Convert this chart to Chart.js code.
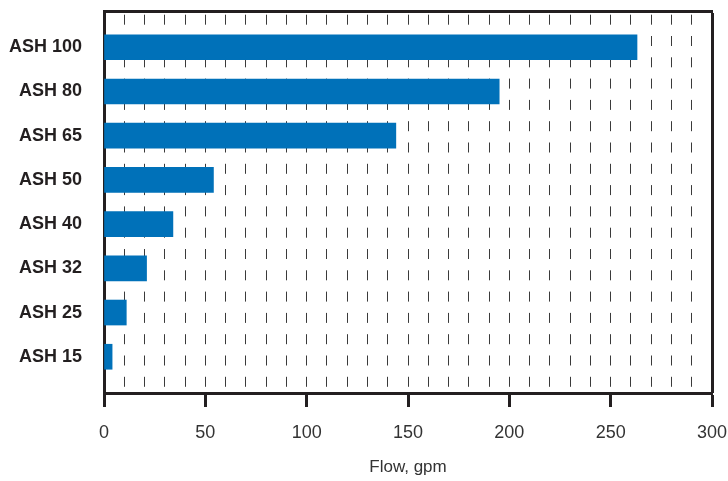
<!DOCTYPE html>
<html>
<head>
<meta charset="utf-8">
<script src="https://cdn.jsdelivr.net/npm/chart.js@4/dist/chart.umd.min.js"></script>
<style>
  html, body { margin: 0; padding: 0; background: #fff; }
  #wrap { width: 728px; height: 481px; }
</style>
</head>
<body>
<div id="wrap"><canvas id="flow"></canvas></div>
<script>
let models = ['ASH 100', 'ASH 80', 'ASH 65', 'ASH 50', 'ASH 40', 'ASH 32', 'ASH 25', 'ASH 15'];
let flowGpm = [263, 195, 144, 54, 34, 21, 11, 4];
let flowTicks = [0, 50, 100, 150, 200, 250, 300];

const ink = '#231f20';
const face = "'Liberation Sans', Arial, sans-serif";

// the layout is pinned, so drop the label overflow padding chart.js adds
function noPad(axis) {
    axis.paddingTop = 0;
    axis.paddingBottom = 0;
    axis.paddingLeft = 0;
    axis.paddingRight = 0;
}

const ctx = document.getElementById('flow').getContext('2d');
const flowChart = new Chart(ctx, {
    type: 'bar',
    data: {
        datasets: [{
            label: 'Flow',
            data: models.map((m, i) => ({ x: flowGpm[i], y: i })),
            backgroundColor: '#0071b9',
            borderWidth: 0,
            barThickness: 25,
            xAxisID: 'x',
            yAxisID: 'y'
        }]
    },
    options: {
        indexAxis: 'y',
        responsive: true,
        maintainAspectRatio: false,
        animation: false,
        layout: {
            padding: { top: 0, right: 16, bottom: 0, left: 0 }
        },
        scales: {
            y: {
                type: 'linear',
                position: 'left',
                reverse: true,
                offset: false,
                min: -0.82,
                max: 7.82,
                afterBuildTicks: (axis) => {
                    axis.ticks = models.map((m, i) => ({ value: i }));
                },
                afterFit: (axis) => { axis.width = 104; noPad(axis); },
                grid: { drawOnChartArea: false, drawTicks: false },
                border: { display: true, color: ink, width: 3 },
                ticks: {
                    padding: 22,
                    color: ink,
                    font: { family: face, size: 18, weight: 'bold' },
                    callback: (v) => models[v]
                }
            },
            x: {
                type: 'linear',
                position: 'bottom',
                min: 0,
                max: 300,
                afterBuildTicks: (axis) => {
                    axis.ticks = flowTicks.map(v => ({ value: v }));
                },
                afterFit: (axis) => { axis.height = 88; noPad(axis); },
                grid: {
                    drawOnChartArea: false,
                    drawTicks: true,
                    tickLength: 14,
                    tickWidth: 3,
                    tickColor: ink
                },
                border: { display: true, color: ink, width: 3 },
                ticks: {
                    padding: 15,
                    color: '#333333',
                    font: { family: face, size: 18 }
                },
                title: {
                    display: true,
                    text: 'Flow, gpm',
                    color: '#333333',
                    font: { family: face, size: 17 },
                    padding: { top: 10, bottom: 3 }
                }
            },
            xMinor: {
                type: 'linear',
                position: 'top',
                min: 0,
                max: 300,
                afterFit: (axis) => { axis.height = 11; noPad(axis); },
                ticks: { display: false, stepSize: 10 },
                grid: {
                    drawTicks: false,
                    color: (c) => c.tick && c.tick.value === 0 ? 'rgba(0,0,0,0)' : (c.tick && c.tick.value === 300 ? ink : '#3a3a3a'),
                    lineWidth: (c) => c.tick && c.tick.value === 300 ? 3 : 1
                },
                border: {
                    display: true,
                    color: ink,
                    width: 3,
                    dash: (c) => c.tick && c.tick.value === 300 ? [] : [10, 11.3],
                    dashOffset: -1.7
                }
            }
        },
        plugins: {
            legend: { display: false },
            tooltip: { enabled: false }
        }
    }
});
</script>
</body>
</html>
